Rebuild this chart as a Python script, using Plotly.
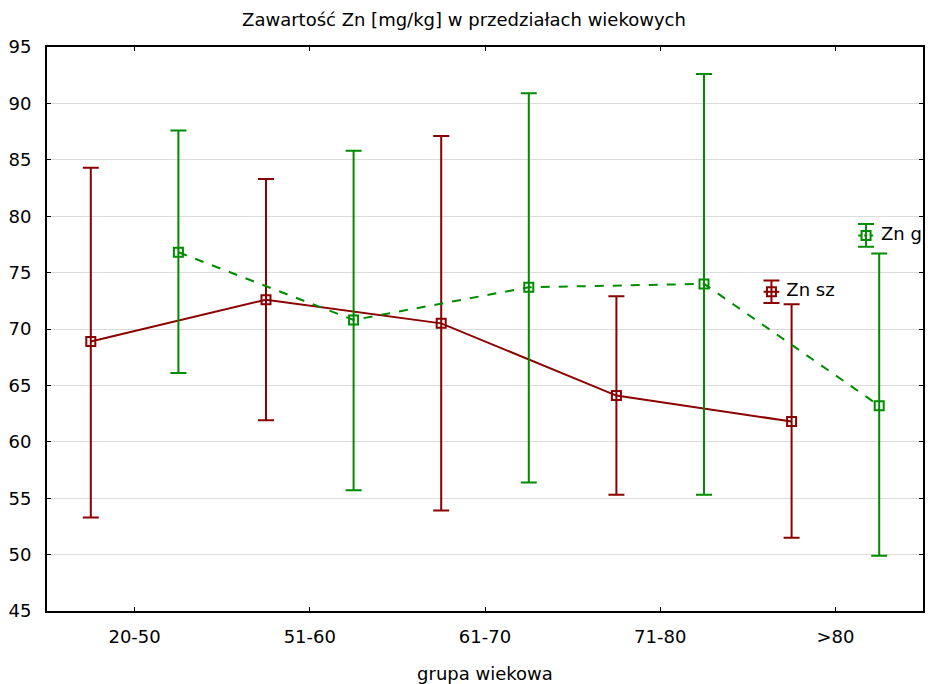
import plotly.graph_objects as go

# Age groups and zinc content statistics (mean with lower/upper limits), mg/kg
groups = ["20-50", "51-60", "61-70", "71-80", ">80"]

zn_sz_mean = [68.9, 72.6, 70.5, 64.1, 61.8]
zn_sz_low = [53.3, 61.9, 53.9, 55.3, 51.5]
zn_sz_high = [84.3, 83.3, 87.1, 72.9, 72.2]

zn_gr_mean = [76.8, 70.8, 73.7, 74.0, 63.2]
zn_gr_low = [66.1, 55.7, 56.4, 55.3, 49.9]
zn_gr_high = [87.6, 85.8, 90.9, 92.6, 76.7]

RED = "#8B0000"
GREEN = "#008B00"
FONT = "DejaVu Sans, Arial, sans-serif"
FS = 18

offset = 0.25
idx = list(range(len(groups)))


def series(name, mean, low, high, color, dash, shift):
    xs = [i + shift for i in idx]
    return go.Scatter(
        x=xs, y=mean, name=name, mode="lines+markers",
        line=dict(color=color, width=2, dash=dash),
        marker=dict(symbol="square-open", size=9, color=color,
                    line=dict(width=2, color=color)),
        error_y=dict(type="data", symmetric=False,
                     array=[h - m for h, m in zip(high, mean)],
                     arrayminus=[m - l for m, l in zip(mean, low)],
                     color=color, thickness=2, width=8),
        showlegend=False, cliponaxis=False,
    )


def key(name, x, y, color, dash):
    # in-plot series key: error-bar glyph with a short line and a label
    # (the label is clipped by the plot frame like the other marks)
    return [
        go.Scatter(x=[x - 0.045, x + 0.045], y=[y, y], mode="lines",
                   line=dict(color=color, width=2, dash=dash if dash == "solid" else "dot"),
                   showlegend=False, hoverinfo="skip"),
        go.Scatter(x=[x], y=[y], mode="markers",
                   marker=dict(symbol="square-open", size=9, color=color,
                               line=dict(width=2, color=color)),
                   error_y=dict(type="constant", value=1.0, color=color,
                                thickness=2, width=8),
                   showlegend=False, hoverinfo="skip"),
        go.Scatter(x=[x + 0.085], y=[y], mode="text", text=[name],
                   textposition="middle right",
                   textfont=dict(family=FONT, size=FS, color="black"),
                   showlegend=False, hoverinfo="skip", cliponaxis=True),
    ]


fig = go.Figure()
fig.add_trace(series("Zn sz", zn_sz_mean, zn_sz_low, zn_sz_high, RED, "solid", -offset))
fig.add_trace(series("Zn gr", zn_gr_mean, zn_gr_low, zn_gr_high, GREEN, "dash", offset))
for t in key("Zn sz", 3.635, 73.3, RED, "solid"):
    fig.add_trace(t)
for t in key("Zn gr", 4.175, 78.3, GREEN, "dash"):
    fig.add_trace(t)

fig.update_layout(
    width=928, height=684,
    margin=dict(l=47, r=3, t=47, b=73),
    paper_bgcolor="white", plot_bgcolor="white",
    font=dict(family=FONT, size=FS, color="black"),
    title=dict(text="Zawartość Zn [mg/kg] w przedziałach wiekowych",
               x=0.5, xanchor="center", y=0.971, yanchor="middle",
               font=dict(family=FONT, size=FS, color="black")),
)
fig.update_xaxes(
    range=[-0.5, 4.5], tickvals=idx, ticktext=groups,
    showgrid=False, zeroline=False,
    showline=True, linecolor="black", linewidth=2, mirror="allticks",
    ticks="inside", ticklen=4, tickwidth=1, tickcolor="black",
    ticklabelstandoff=8,
    title=dict(text="grupa wiekowa", standoff=22,
               font=dict(family=FONT, size=FS)),
)
fig.update_yaxes(
    range=[45, 95], tickvals=list(range(45, 96, 5)),
    showgrid=True, gridcolor="#dcdcdc", gridwidth=1, zeroline=False,
    showline=True, linecolor="black", linewidth=2, mirror="allticks",
    ticks="inside", ticklen=4, tickwidth=1, tickcolor="black",
    ticklabelstandoff=10,
)

fig.write_html("out.html")
